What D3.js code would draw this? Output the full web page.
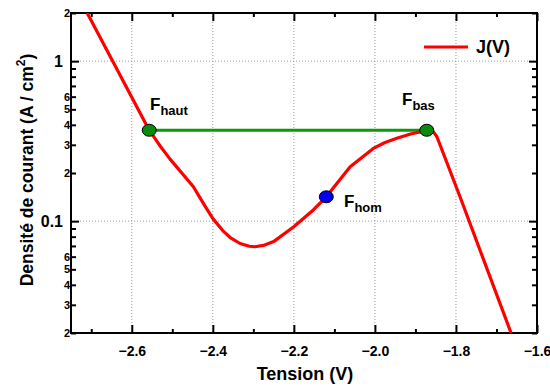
<!DOCTYPE html>
<html><head><meta charset="utf-8">
<script src="https://cdn.jsdelivr.net/npm/d3@7"></script>
<style>body{margin:0;background:#fff}svg{display:block;font-family:"Liberation Sans",Arial,sans-serif;font-weight:bold}</style>
</head><body><svg id="c" width="550" height="387"></svg>
<script>
const voltage = [-2.710,-2.557,-2.545,-2.530,-2.506,-2.448,-2.420,-2.399,-2.375,-2.357,-2.333,-2.310,-2.296,-2.275,-2.250,-2.201,-2.152,-2.120,-2.061,-2.004,-1.975,-1.946,-1.910,-1.872,-1.855,-1.847,-1.790,-1.664];
const current = [2.0,0.37,0.335,0.295,0.245,0.164,0.125,0.103,0.087,0.079,0.0725,0.0697,0.0692,0.0705,0.0745,0.092,0.1175,0.142,0.219,0.285,0.31,0.33,0.352,0.368,0.36,0.337,0.142,0.02];
const markerNames = ["haut","hom","bas"];
const markerV = [-2.557,-2.120,-1.872];
const markerJ = [0.37,0.142,0.37];
const markerColors = ["#0a8a0a","#0000ee","#0a8a0a"];
const xTicks = [-2.6,-2.4,-2.2,-2.0,-1.8,-1.6];
const xMinor = [-2.7,-2.5,-2.3,-2.1,-1.9,-1.7];
const yMajor = [1,0.1];
const yMinor = [0.02,0.03,0.04,0.05,0.06,0.07,0.08,0.09,0.2,0.3,0.4,0.5,0.6,0.7,0.8,0.9,2];
const yMinorLabeled = [0.02,0.03,0.04,0.05,0.06,0.2,0.3,0.4,0.5,0.6,2];

const svg = d3.select("#c");
const L=71,R=537,T=13,B=333;
const x = d3.scaleLinear().domain([-2.75,-1.6]).range([L,R]);
const y = d3.scaleLog().domain([0.02,2]).range([B,T]);

const g = svg.append("g");
g.selectAll(".gx").data(xTicks.slice(0,-1)).enter().append("line")
 .attr("x1",d=>x(d)).attr("x2",d=>x(d)).attr("y1",T).attr("y2",B)
 .attr("stroke","#999").attr("stroke-width",1).attr("stroke-dasharray","1,2");
g.selectAll(".gy").data(yMajor).enter().append("line")
 .attr("x1",L).attr("x2",R).attr("y1",d=>y(d)).attr("y2",d=>y(d))
 .attr("stroke","#999").attr("stroke-width",1).attr("stroke-dasharray","1,2");

function styleAxis(sel){sel.select(".domain").remove();sel.selectAll("line").attr("stroke","#000").attr("stroke-width",2);}
const xb = svg.append("g").attr("transform",`translate(0,${B})`)
 .call(d3.axisBottom(x).tickValues(xTicks).tickSize(-8).tickPadding(13).tickFormat(d3.format(".1f")));
styleAxis(xb); xb.selectAll("text").attr("font-size",14).attr("font-weight","bold").attr("font-family","Liberation Sans, Arial");
const xbm = svg.append("g").attr("transform",`translate(0,${B})`)
 .call(d3.axisBottom(x).tickValues(xMinor).tickSize(-4).tickFormat(""));
styleAxis(xbm);
const xt = svg.append("g").attr("transform",`translate(0,${T})`)
 .call(d3.axisTop(x).tickValues(xTicks).tickSize(-8).tickFormat(""));
styleAxis(xt);
const xtm = svg.append("g").attr("transform",`translate(0,${T})`)
 .call(d3.axisTop(x).tickValues(xMinor).tickSize(-4).tickFormat(""));
styleAxis(xtm);

const yl = svg.append("g").attr("transform",`translate(${L},0)`)
 .call(d3.axisLeft(y).tickValues(yMajor).tickSize(-8).tickPadding(8).tickFormat(d=>d===1?"1":"0.1"));
styleAxis(yl); yl.selectAll("text").attr("font-size",16).attr("font-weight","bold").attr("font-family","Liberation Sans, Arial");
const ylm = svg.append("g").attr("transform",`translate(${L},0)`)
 .call(d3.axisLeft(y).tickValues(yMinor).tickSize(-5).tickPadding(1)
 .tickFormat(d=>yMinorLabeled.includes(d)?String(Math.round(d/Math.pow(10,Math.floor(Math.log10(d)+1e-9)))):""));
styleAxis(ylm); ylm.selectAll("text").attr("font-size",11).attr("font-weight","bold").attr("font-family","Liberation Sans, Arial");
const yr = svg.append("g").attr("transform",`translate(${R},0)`)
 .call(d3.axisRight(y).tickValues(yMajor).tickSize(-8).tickFormat(""));
styleAxis(yr);
const yrm = svg.append("g").attr("transform",`translate(${R},0)`)
 .call(d3.axisRight(y).tickValues(yMinor).tickSize(-5).tickFormat(""));
styleAxis(yrm);

svg.append("rect").attr("x",L).attr("y",T).attr("width",R-L).attr("height",B-T)
 .attr("fill","none").attr("stroke","#000").attr("stroke-width",2);

svg.append("clipPath").attr("id","clip").append("rect").attr("x",L).attr("y",T).attr("width",R-L).attr("height",B-T);

svg.append("line").attr("x1",x(markerV[0])).attr("x2",x(markerV[2]))
 .attr("y1",y(markerJ[0])).attr("y2",y(markerJ[2])).attr("stroke","#0a9a0a").attr("stroke-width",3);

const pts = voltage.map((v,i)=>[v,current[i]]);
svg.append("path").datum(pts).attr("clip-path","url(#clip)")
 .attr("d",d3.line().x(d=>x(d[0])).y(d=>y(d[1])).curve(d3.curveLinear))
 .attr("fill","none").attr("stroke","#ff0000").attr("stroke-width",3.2).attr("stroke-linejoin","round");

svg.selectAll(".mk").data(markerV).enter().append("ellipse")
 .attr("cx",d=>x(d)).attr("cy",(d,i)=>y(markerJ[i])).attr("rx",7).attr("ry",6)
 .attr("fill",(d,i)=>markerColors[i]).attr("stroke","#000").attr("stroke-width",1);

const labPos = [[150,110],[344,207],[402,105]];
markerNames.forEach((n,i)=>{
  const t = svg.append("text").attr("x",labPos[i][0]).attr("y",labPos[i][1]).attr("font-size",17).attr("fill","#000");
  t.append("tspan").text("F");
  t.append("tspan").attr("dy",5).attr("font-size",13).text(n);
});

svg.append("line").attr("x1",424).attr("x2",468).attr("y1",47).attr("y2",47).attr("stroke","#ff0000").attr("stroke-width",3);
svg.append("text").attr("x",476).attr("y",53).attr("font-size",18).text("J(V)");

svg.append("text").attr("x",305).attr("y",380).attr("text-anchor","middle").attr("font-size",18).text("Tension (V)");
const yt = svg.append("text").attr("transform","translate(33,170) rotate(-90)").attr("text-anchor","middle").attr("font-size",17.5);
yt.append("tspan").text("Densité de courant (A / cm");
yt.append("tspan").attr("dy",-8).attr("font-size",12).text("2");
yt.append("tspan").attr("dy",8).text(")");
</script></body></html>
